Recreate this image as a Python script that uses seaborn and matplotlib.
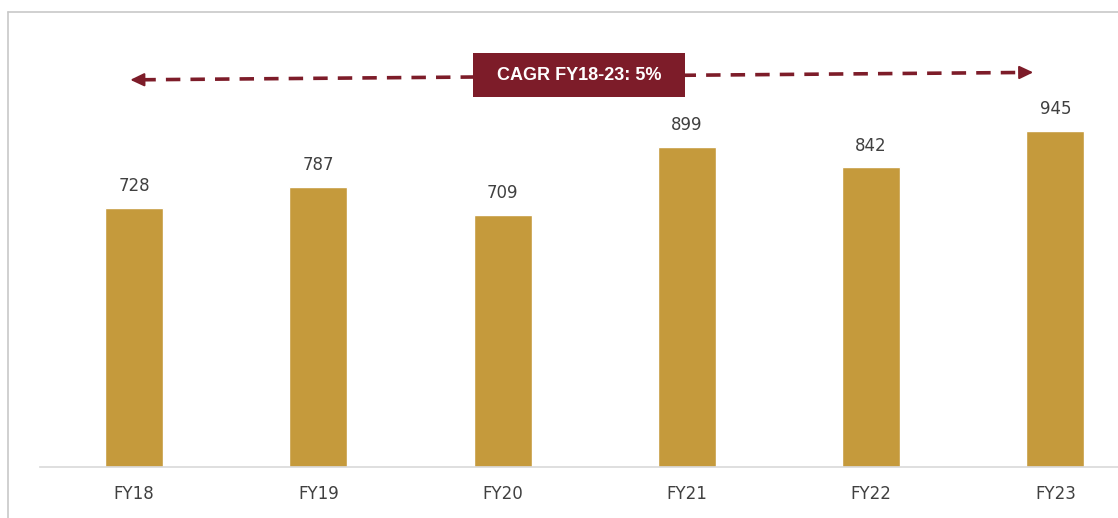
import matplotlib
matplotlib.use("Agg")
import matplotlib.pyplot as plt
import seaborn as sns
import pandas as pd
from matplotlib.lines import Line2D
from matplotlib.patches import Rectangle

years = ["FY18", "FY19", "FY20", "FY21", "FY22", "FY23"]
revenue = [728, 787, 709, 899, 842, 945]
cagr_label = "CAGR FY18-23: 5%"

bar_color = "#c59a3c"
maroon = "#7d1c29"
text_gray = "#404040"

sns.set_style("white")
plt.rcParams['font.family'] = ['DejaVu Sans']

df = pd.DataFrame({"Year": years, "Value": revenue})

fig = plt.figure(figsize=(11.18, 5.18), dpi=100)
ax = fig.add_axes([40 / 1118, 51 / 518, 1078 / 1118, 427 / 518])

sns.barplot(data=df, x="Year", y="Value", color=bar_color, width=0.315,
            saturation=1, ax=ax)

for i, v in enumerate(revenue):
    ax.annotate(str(v), xy=(i, v), xytext=(0, 12), textcoords="offset points",
                ha="center", va="baseline", fontsize=12, color=text_gray)

ax.set_xlim(-0.51, 5.34)
ax.set_ylim(0, 1200)
ax.set(xlabel=None, ylabel=None)
ax.set_yticks([])
ax.tick_params(axis='x', length=0, labelsize=12, labelcolor=text_gray, pad=13)
ax.spines[['left', 'right', 'top']].set_visible(False)
ax.spines['bottom'].set_color("#d9d9d9")
ax.spines['bottom'].set_linewidth(1.2)

# dashed CAGR arrow (slightly rising to the right, as in the source)
x_left, y_left = -0.02, 1088
x_right, y_right = 4.88, 1109
slope = (y_right - y_left) / (x_right - x_left)
d = 0.06
ax.plot([x_left + d, x_right - d], [y_left + slope * d, y_right - slope * d],
        color=maroon, linestyle=(0, (4, 2.8)), linewidth=2.6, solid_capstyle='butt')
head = dict(arrowstyle="-|>,head_length=0.42,head_width=0.2", mutation_scale=20,
            color=maroon, lw=1.5, shrinkA=0, shrinkB=0)
ax.annotate("", xy=(x_left, y_left), xytext=(x_left + 0.07, y_left + slope * 0.07),
            arrowprops=head)
ax.annotate("", xy=(x_right, y_right), xytext=(x_right - 0.07, y_right - slope * 0.07),
            arrowprops=head)

# CAGR label box
ax.add_patch(Rectangle((1.842, 1040), 1.147, 124, facecolor=maroon,
                       edgecolor="none", zorder=5))
ax.text(2.415, 1101, cagr_label, ha="center", va="center", fontsize=13,
        fontweight="bold", color="white",
        family=['Liberation Sans Narrow', 'Liberation Sans', 'DejaVu Sans'],
        zorder=6)

# outer frame lines
fig.add_artist(Line2D([8 / 1118, 8 / 1118], [0, 1 - 12 / 518], color="#c8c8c8", lw=1.2))
fig.add_artist(Line2D([8 / 1118, 1], [1 - 12 / 518, 1 - 12 / 518], color="#c8c8c8", lw=1.2))

fig.savefig("out.png", dpi=100)
